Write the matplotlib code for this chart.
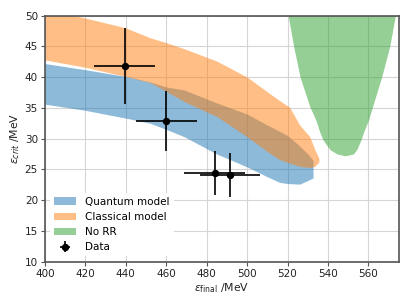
#Recreating the radiation reaction comparison chart
import numpy as np
import matplotlib
matplotlib.use("Agg")
import matplotlib.pyplot as plt

#Band data
quantum_x = [400, 420, 442, 452, 460, 469, 485, 500, 510, 516, 520, 526, 530, 532.6]
quantum_upper = [42.2, 41.2, 40.0, 39.2, 38.4, 37.9, 35.8, 34.0, 32.2, 31.2, 30.5, 28.8, 27.5, 26.5]
quantum_lower = [35.6, 34.6, 33.2, 32.5, 31.5, 30.3, 27.5, 25.4, 23.8, 22.9, 22.7, 22.6, 23.2, 23.6]

classical_x = [400, 410, 420, 440, 452, 460, 469, 485, 500, 510, 516, 521, 526, 531, 533.5, 535.5]
classical_upper = [50.5, 50.3, 49.6, 48.0, 46.4, 45.6, 44.6, 42.6, 40.0, 37.6, 36.2, 35.1, 32.2, 30.3, 28.2, 26.8]
classical_lower = [42.8, 42.2, 41.6, 40.1, 39.1, 37.7, 36.0, 33.6, 30.3, 27.9, 26.6, 26.0, 25.5, 25.3, 25.5, 26.2]

norr_y = [27.2, 27.5, 28.2, 29.8, 31.0, 33.0, 35.2, 40.0, 45.0, 50.0]
norr_left = [548.5, 544.5, 541.0, 537.5, 536.0, 534.0, 531.0, 526.2, 523.0, 520.3]
norr_right = [548.5, 552.5, 554.2, 556.3, 557.5, 560.0, 562.0, 566.5, 570.5, 573.3]

#Measured points
data_x = [439.5, 460.0, 484.0, 491.5]
data_y = [41.8, 32.9, 24.4, 24.1]
data_xerr = [15, 15, 15, 15]
data_yerr = [6.2, 4.9, 3.6, 3.6]

plt.rcParams["font.family"] = ["DejaVu Sans"]
plt.rcParams["font.size"] = 7.5

fig = plt.figure(figsize=(4.15, 3.05), dpi=100)
ax = fig.add_axes([0.108, 0.142, 0.853, 0.807])

ax.fill_between(quantum_x, quantum_lower, quantum_upper, color="#1f77b4", alpha=0.5,
                linewidth=0, label="Quantum model")
ax.fill_between(classical_x, classical_lower, classical_upper, color="#ff7f0e", alpha=0.5,
                linewidth=0, label="Classical model")
ax.fill_betweenx(norr_y, norr_left, norr_right, color="#2ca02c", alpha=0.5,
                 linewidth=0, label="No RR")
ax.errorbar(data_x, data_y, xerr=data_xerr, yerr=data_yerr, fmt="o", color="black",
            markersize=4.3, elinewidth=1.2, capsize=0, label="Data")

ax.set_xlim(400, 575)
ax.set_ylim(10, 50)
ax.set_xticks(np.arange(400, 561, 20))
ax.set_yticks(np.arange(10, 51, 5))
ax.grid(True, color="#d5d5d5", linewidth=0.8)
ax.set_axisbelow(True)
for s in ax.spines.values():
    s.set_color("#555555")
    s.set_linewidth(1.2)
ax.tick_params(colors="#555555", labelcolor="#222222", length=3, width=0.8,
               labelsize=7.5, pad=2)

ax.set_xlabel(r"$\epsilon_{\rm final}$ /MeV", fontsize=7.8, labelpad=2, color="#222222")
ax.set_ylabel(r"$\epsilon_{crit}$ /MeV", fontsize=7.8, labelpad=2, color="#222222")

leg = ax.legend(loc="lower left", fontsize=7.5, frameon=True, framealpha=1,
                edgecolor="white", borderaxespad=0.5, handlelength=2.1,
                handletextpad=0.9)
leg.get_frame().set_linewidth(0)

fig.savefig("out.png", dpi=100)
